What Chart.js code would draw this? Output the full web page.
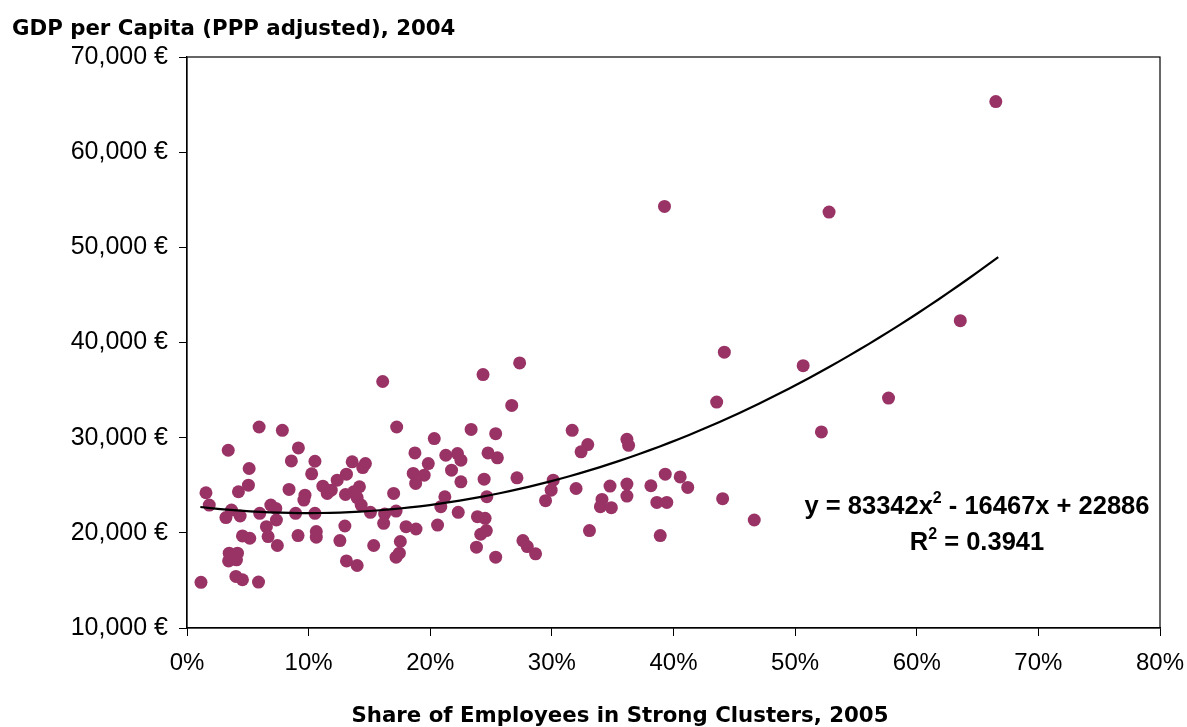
<!DOCTYPE html>
<html>
<head>
<meta charset="utf-8">
<title>GDP per Capita vs Share of Employees in Strong Clusters</title>
<script src="https://cdn.jsdelivr.net/npm/chart.js@4.4.0/dist/chart.umd.min.js"></script>
<style>
  html, body { margin: 0; padding: 0; background: #fff; }
  #wrap { width: 1187px; height: 727px; }
</style>
</head>
<body>
<div id="wrap"><canvas id="gdpChart" width="1187" height="727"></canvas></div>
<script>
// Share of employees in strong clusters (%) and GDP per capita (EUR)
const shareValues = [
  1.15, 1.56, 1.83, 3.39, 3.20, 3.66, 4.37, 4.23, 5.05, 5.11, 5.93, 7.84, 9.16, 8.58, 10.52, 10.25,
  8.39, 9.70, 9.61, 11.17, 11.53, 11.86, 12.35, 13.11, 13.58, 14.67, 14.45, 13.03, 13.71, 14.18, 13.99, 14.32,
  6.89, 7.30, 5.98, 7.35, 8.93, 10.52, 6.53, 6.67, 7.43, 4.56, 5.16, 9.13, 10.63, 10.63, 12.98, 12.57,
  3.47, 4.15, 3.42, 4.07, 4.02, 4.56, 5.88, 13.11, 13.99, 15.35, 15.08, 16.25, 16.17, 16.09,
  24.34, 27.35, 26.70, 17.24, 23.36, 25.38, 31.67, 20.33, 18.74, 21.28, 22.24, 22.52, 24.75, 25.52, 19.84,
  18.60, 19.50, 18.80, 21.75, 22.52, 24.43, 27.13, 30.11, 29.94, 29.48, 31.99, 16.99, 21.20, 20.87, 24.65,
  22.30, 17.19, 18.01, 18.83, 20.60, 23.88, 24.51, 24.61, 24.15, 17.54, 17.46, 17.19, 23.80, 25.38, 27.62,
  27.98, 28.66,
  44.18, 43.55, 32.95, 32.40, 36.17, 36.31, 39.32, 40.55, 41.17, 38.14, 36.17, 36.17, 34.78, 34.12, 33.99,
  34.89, 38.63, 39.45, 44.04, 46.64, 33.09, 38.91,
  66.5, 52.79, 63.58, 50.66, 57.68, 52.16, 39.26
];
const gdpValues = [
  14800, 24210, 22920, 28680, 21600, 22390, 21770, 24320, 25010, 26760, 31120, 30770, 28920, 27560, 27520, 26200,
  24560, 23960, 23440, 24900, 24140, 24480, 25530, 26160, 27460, 27280, 26860, 24030, 24320, 24840, 23690, 22920,
  22920, 22570, 22050, 21350, 22050, 22050, 20650, 19610, 18670, 19680, 19430, 19710, 20130, 19540, 20720, 19190,
  17860, 17860, 17050, 17160, 15420, 15070, 14830, 17050, 16570, 18670, 22150, 21980, 21000, 35900,
  36630, 37850, 33390, 31120, 30870, 30420, 30770, 29900, 28400, 28150, 28330, 27630, 28400, 27880, 27280,
  26240, 26060, 25190, 26580, 25360, 25640, 25780, 25530, 24480, 23380, 24660, 24140, 23790, 22750, 23790,
  22150, 22290, 20650, 20400, 20820, 21700, 21520, 20240, 19850, 19090, 17860, 17440, 18490, 17440, 19190,
  18560, 17790,
  38980, 33740, 29270, 28510, 29830, 29200, 26160, 25880, 24770, 24950, 25120, 23860, 24910, 23510, 22750,
  22640, 23200, 23200, 23590, 21350, 20240, 19710,
  65320, 53700, 42290, 37570, 34160, 30600, 54300
];

// trend line, as printed on the chart (x as a fraction)
const trendA = 83342;
const trendB = -16467;
const trendC = 22886;
const trendFrom = 1.1;
const trendTo = 66.7;

const xTicks = [0, 10, 20, 30, 40, 50, 60, 70, 80];
const yTicks = [10000, 20000, 30000, 40000, 50000, 60000, 70000];

const pointColor = '#993366';

const scatterData = shareValues.map((s, i) => ({ x: s, y: gdpValues[i] }));
const trendData = [];
for (let i = 0; i <= 80; i++) {
  const x = trendFrom + (trendTo - trendFrom) * i / 80;
  const f = x / 100;
  trendData.push({ x: x, y: trendA * f * f + trendB * f + trendC });
}

// axis titles, frame and the equation box
const decorations = {
  id: 'decorations',
  afterDraw(chart) {
    const ctx = chart.ctx;
    const area = chart.chartArea;
    ctx.save();

    ctx.strokeStyle = '#000';
    ctx.lineWidth = 1.2;
    ctx.strokeRect(area.left, area.top, area.right - area.left, area.bottom - area.top);

    ctx.fillStyle = '#000';
    ctx.font = 'bold 21.3px "DejaVu Sans", Verdana, sans-serif';
    ctx.textBaseline = 'alphabetic';
    ctx.textAlign = 'left';
    ctx.fillText('GDP per Capita (PPP adjusted), 2004', 12, 35);
    ctx.textAlign = 'center';
    ctx.fillText('Share of Employees in Strong Clusters, 2005', 620, 722);

    // equation with superscripts
    const big = 'bold 25.5px "Liberation Sans", Arial, sans-serif';
    const small = 'bold 16px "Liberation Sans", Arial, sans-serif';
    function drawParts(parts, cx, y) {
      let total = 0;
      parts.forEach(p => { ctx.font = p.sup ? small : big; total += ctx.measureText(p.t).width; });
      let x = cx - total / 2;
      ctx.textAlign = 'left';
      parts.forEach(p => {
        ctx.font = p.sup ? small : big;
        ctx.fillText(p.t, x, p.sup ? y - 11 : y);
        x += ctx.measureText(p.t).width;
      });
    }
    drawParts([
      { t: 'y = 83342x' }, { t: '2', sup: true }, { t: ' - 16467x + 22886' }
    ], 977, 514);
    drawParts([
      { t: 'R' }, { t: '2', sup: true }, { t: ' = 0.3941' }
    ], 977, 550);

    ctx.restore();
  }
};

const chart = new Chart(document.getElementById('gdpChart'), {
  type: 'scatter',
  data: {
    datasets: [
      {
        type: 'line',
        label: 'Trend',
        data: trendData,
        borderColor: '#000',
        borderWidth: 2.2,
        pointRadius: 0,
        fill: false,
        tension: 0
      },
      {
        label: 'Regions',
        data: scatterData,
        backgroundColor: pointColor,
        borderColor: pointColor,
        borderWidth: 0,
        pointRadius: 6.5,
        pointHoverRadius: 6.5
      }
    ]
  },
  options: {
    responsive: false,
    animation: false,
    events: [],
    layout: { padding: { left: 0, top: 57, right: 27, bottom: 0 } },
    plugins: {
      legend: { display: false },
      title: { display: false },
      tooltip: { enabled: false }
    },
    scales: {
      x: {
        type: 'linear',
        min: 0,
        max: 80,
        afterFit(scale) {
          scale.height = 99;
          scale.paddingRight = 0;
          scale.paddingLeft = 0;
        },
        afterBuildTicks(scale) { scale.ticks = xTicks.map(v => ({ value: v })); },
        grid: { display: true, drawOnChartArea: false, drawTicks: true, tickLength: 8, color: '#000' },
        border: { display: true, color: '#000', width: 1.2 },
        ticks: {
          color: '#000',
          padding: 13,
          maxRotation: 0,
          font: { family: '"Liberation Sans", Arial, sans-serif', size: 24 },
          callback: v => v + '%'
        }
      },
      y: {
        type: 'linear',
        min: 10000,
        max: 70000,
        afterFit(scale) { scale.width = 187; },
        afterBuildTicks(scale) { scale.ticks = yTicks.map(v => ({ value: v })); },
        grid: { display: true, drawOnChartArea: false, drawTicks: true, tickLength: 8, color: '#000' },
        border: { display: true, color: '#000', width: 1.2 },
        ticks: {
          color: '#000',
          padding: 11,
          font: { family: '"Liberation Sans", Arial, sans-serif', size: 25 },
          callback: v => v.toLocaleString('en-US') + ' €'
        }
      }
    }
  },
  plugins: [decorations]
});
</script>
</body>
</html>
